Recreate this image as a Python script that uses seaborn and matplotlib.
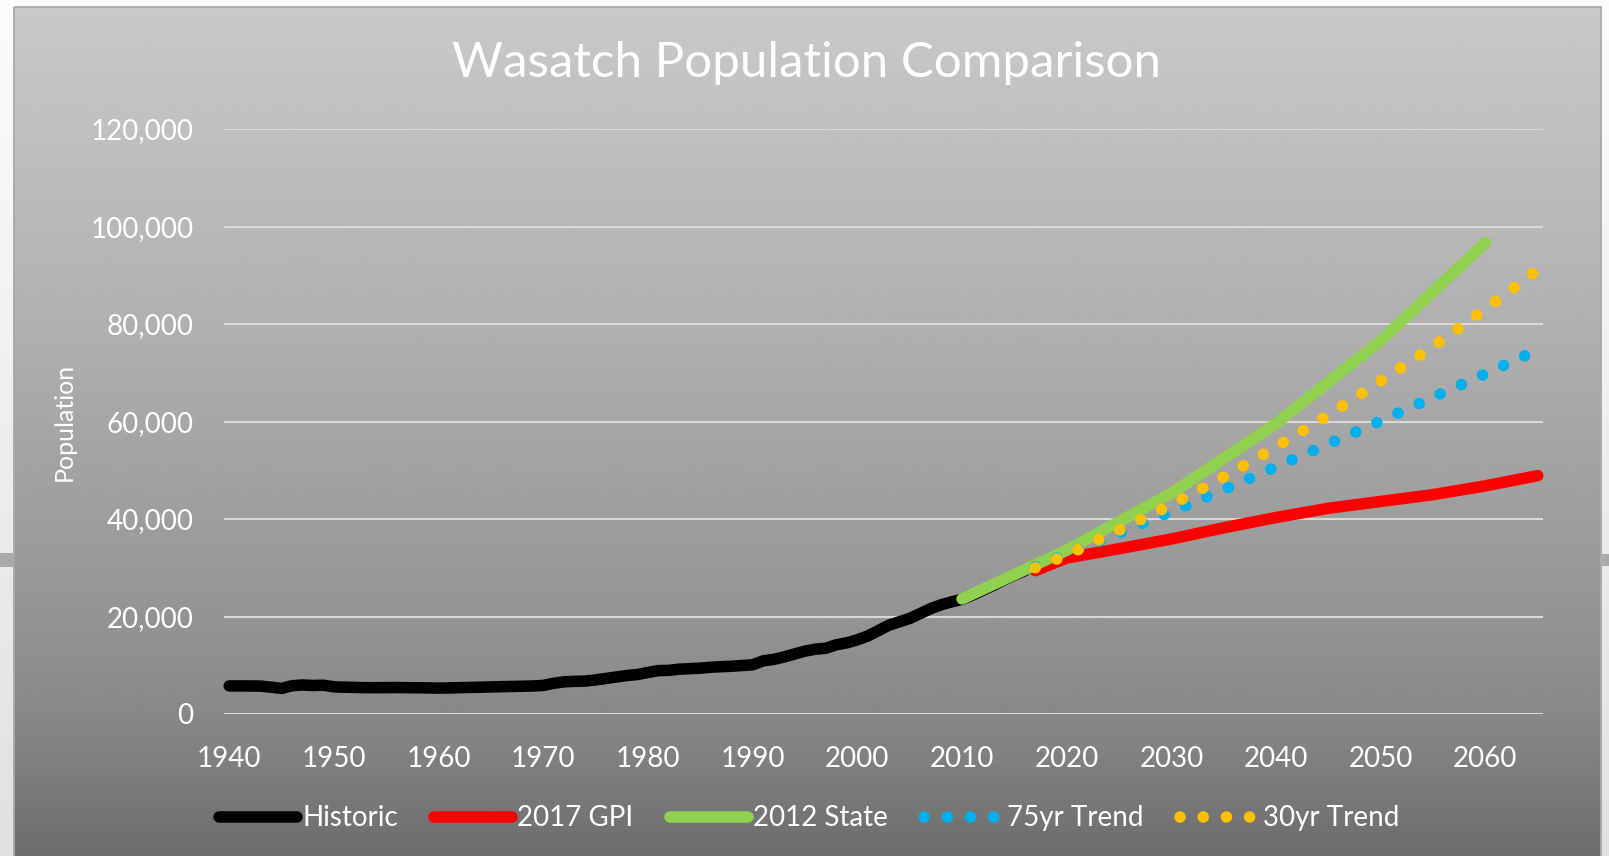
import numpy as np
import pandas as pd
import matplotlib
matplotlib.use("Agg")
import matplotlib.pyplot as plt
import seaborn as sns
from matplotlib.patches import Rectangle
from matplotlib.ticker import FuncFormatter, FixedLocator

# ---------------- data ----------------
hist_years = list(range(1940, 2017))
hist_pop = [5754, 5760, 5750, 5720, 5500, 5250, 5800, 5950, 5850, 5900,
            5574, 5500, 5450, 5400, 5400, 5420, 5430, 5400, 5380, 5350,
            5308, 5350, 5400, 5450, 5500, 5550, 5600, 5650, 5700, 5750,
            5863, 6300, 6600, 6700, 6750, 7000, 7300, 7600, 7900, 8100,
            8523, 8900, 8950, 9200, 9300, 9400, 9600, 9700, 9800, 9950,
            10089, 10900, 11200, 11700, 12300, 12900, 13300, 13500, 14200, 14600,
            15215, 16000, 17100, 18200, 18900, 19600, 20600, 21600, 22400, 23000,
            23530, 24400, 25400, 26400, 27500, 28500, 29400]

proj_years = [2017, 2020, 2025, 2030, 2035, 2040, 2045, 2050, 2055, 2060, 2065]
gpi_pop = [29400, 32000, 33900, 35900, 38200, 40300, 42200, 43600, 45000, 46800, 48900]
trend75_pop = [30200, 32800, 37100, 41500, 46000, 50700, 55400, 60100, 65000, 69800, 74700]
trend30_pop = [30000, 32600, 37700, 42900, 48600, 54800, 61300, 68300, 75400, 83100, 91100]

state_years = [2010, 2020, 2030, 2040, 2050, 2060]
state_pop = [23600, 33600, 45300, 59600, 76600, 96700]

series_labels = ["Historic", "2017 GPI", "2012 State", "75yr Trend", "30yr Trend"]
series_colors = ["#000000", "#FF0000", "#92D050", "#00B0F0", "#FFC000"]

x_ticks = list(range(1940, 2061, 10))
y_ticks = list(range(0, 120001, 20000))
title = "Wasatch Population Comparison"
y_title = "Population"

# ---------------- style ----------------
sns.set_style("white")
plt.rcParams["font.family"] = ["Lato", "DejaVu Sans"]

W, H = 1609, 856
fig = plt.figure(figsize=(W / 100, H / 100), dpi=100)

# background (outer page + chart area gradient)
bg = fig.add_axes([0, 0, 1, 1], zorder=0)
outer = np.linspace(0.985, 0.88, 256)[:, None]
bg.imshow(outer, cmap="gray", vmin=0, vmax=1, extent=[0, W, H, 0], aspect="auto")
yy = np.linspace(7, H, 400)
shade = np.interp(yy, [7, 290, 590, 700, 760, 856], [201, 179, 151, 138, 128, 109]) / 255.0
bg.imshow(shade[:, None], cmap="gray", vmin=0, vmax=1, extent=[14.5, 1601, H, 7], aspect="auto")
bg.add_patch(Rectangle((14.5, 7), 1601 - 14.5, H, fill=False, ec="#a8a8a8", lw=1.3))
bg.add_patch(Rectangle((0, 553), 14, 14, fc="#a9a9a9", ec="none"))
bg.add_patch(Rectangle((1602, 554), 7, 12, fc="#a9a9a9", ec="none"))
bg.set_xlim(0, W)
bg.set_ylim(H, 0)
bg.axis("off")

# main plot axes
ax = fig.add_axes([224 / W, 142 / H, 1319 / W, 585 / H], zorder=1)
ax.patch.set_alpha(0)

lw = 8.3
dots = (0, (0.01, 2.0))
sns.lineplot(x=hist_years, y=hist_pop, ax=ax, color=series_colors[0], lw=lw,
             solid_capstyle="round", label=series_labels[0], clip_on=False)
sns.lineplot(x=proj_years, y=gpi_pop, ax=ax, color=series_colors[1], lw=lw,
             solid_capstyle="round", label=series_labels[1], clip_on=False)
sns.lineplot(x=state_years, y=state_pop, ax=ax, color=series_colors[2], lw=lw,
             solid_capstyle="round", label=series_labels[2], clip_on=False)
sns.lineplot(x=proj_years, y=trend75_pop, ax=ax, color=series_colors[3], lw=lw,
             linestyle=dots, dash_capstyle="round", label=series_labels[3], clip_on=False)
sns.lineplot(x=proj_years, y=trend30_pop, ax=ax, color=series_colors[4], lw=lw,
             linestyle=dots, dash_capstyle="round", label=series_labels[4], clip_on=False)

ax.set_xlim(1939.5, 2065.5)
ax.set_ylim(0, 120000)
ax.xaxis.set_major_locator(FixedLocator(x_ticks))
ax.yaxis.set_major_locator(FixedLocator(y_ticks))
ax.yaxis.set_major_formatter(FuncFormatter(lambda v, p: f"{int(v):,}"))
ax.xaxis.set_major_formatter(FuncFormatter(lambda v, p: f"{int(v)}"))
for s in ax.spines.values():
    s.set_visible(False)
ax.grid(False)
ax.yaxis.grid(True, color="#d9d9d9", lw=1.5, zorder=0)
ax.set_axisbelow(True)
ax.tick_params(axis="both", length=0, labelcolor="white", labelsize=20)
ax.tick_params(axis="y", pad=22)
ax.tick_params(axis="x", pad=23)
ax.set_xlabel("")
ax.set_ylabel("")

handles, labels = ax.get_legend_handles_labels()
if ax.get_legend() is not None:
    ax.get_legend().remove()
fig.legend(handles, labels, loc="center", bbox_to_anchor=(0.503, 0.044), ncol=5,
           frameon=False, handlelength=2.8, handletextpad=0.2, columnspacing=1.3,
           fontsize=20, labelcolor="white")

fig.text(0.501, 1 - 77.3 / H, title, ha="center", va="baseline", color="white", fontsize=35.5)
fig.text(64 / W, 1 - 421.5 / H, y_title, rotation=90, ha="center", va="center",
         color="white", fontsize=18)

fig.savefig("out.png", dpi=100)
